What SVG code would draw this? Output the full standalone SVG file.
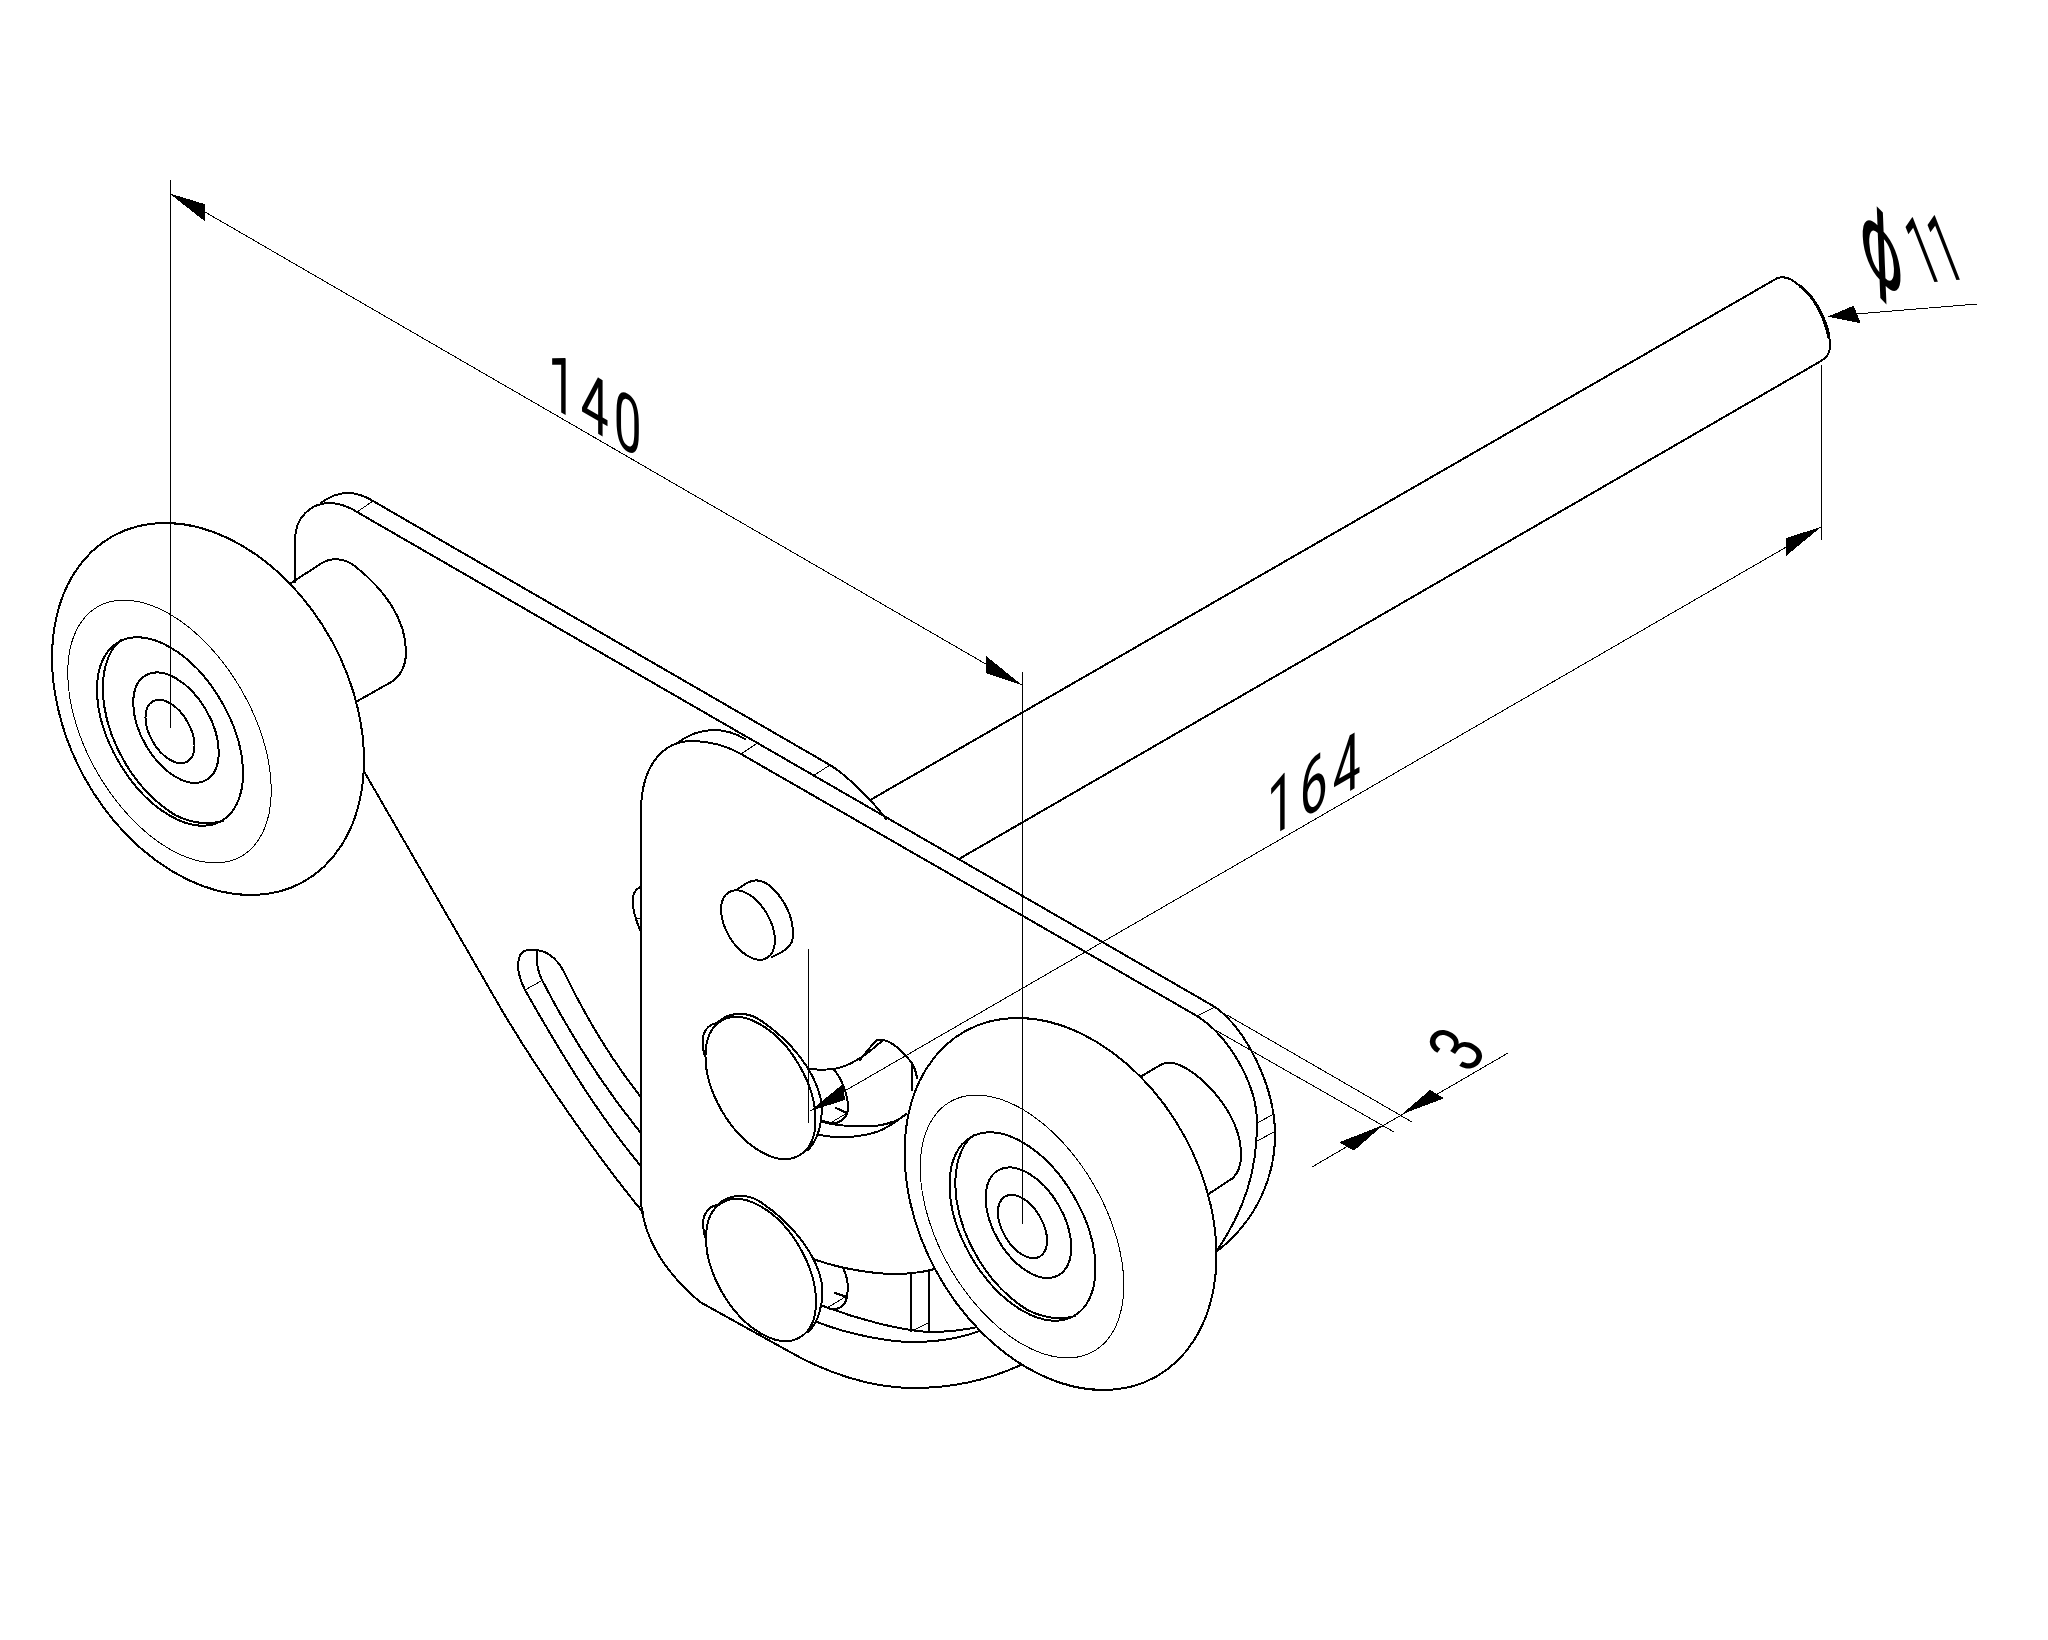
<svg xmlns="http://www.w3.org/2000/svg" xmlns:xlink="http://www.w3.org/1999/xlink" width="2048" height="1640" viewBox="0 0 2048 1640">
<style>
.o{fill:none;stroke:#000;stroke-width:2;stroke-linecap:round;stroke-linejoin:round;shape-rendering:crispEdges}
.w{fill:#fff;stroke:#000;stroke-width:2;shape-rendering:crispEdges}
.t{fill:none;stroke:#000;stroke-width:1;shape-rendering:crispEdges}
.d{fill:none;stroke:#000;stroke-width:1;shape-rendering:crispEdges}
.a{fill:#000;stroke:none;shape-rendering:crispEdges}
.l{font-family:Roboto,"Liberation Sans",sans-serif;font-size:80px;fill:#000}
</style>
<defs>
<g id="wheel">
<ellipse class="w" cx="208" cy="709" rx="141.3" ry="197.4" transform="rotate(-28.6 208 709)"/>
<ellipse class="t" cx="169.5" cy="731.5" rx="83.1" ry="144" transform="rotate(-30 169.5 731.5)"/>
<ellipse class="o" cx="170" cy="731.5" rx="59.6" ry="103.2" transform="rotate(-30 170 731.5)"/>
<path class="o" d="M121.4 640C107 650 100 675 104 705C110 745 135 790 175 815C195 825 212 824 223 821"/>
<ellipse class="o" cx="176" cy="727.7" rx="34.9" ry="60.5" transform="rotate(-30 176 727.7)"/>
<ellipse class="o" cx="170" cy="731.5" rx="20" ry="34.7" transform="rotate(-30 170 731.5)"/>
</g>
<g id="button">
<path class="o" d="M717 1023C708 1024 702 1033 702.6 1042C703 1050 704 1054 705.5 1057"/>
<ellipse class="w" cx="760.5" cy="1088" rx="44.9" ry="77.8" transform="rotate(-30 760.5 1088)"/>
<path class="o" d="M717 1023C727 1013 745 1010 760 1020C790 1040 815 1070 821 1100C824 1120 818 1140 808 1150"/>
</g>
</defs>
<g id="rod">
<path class="o" d="M872 799L1774 280C1780 276 1785 276 1792 280C1812 293 1830 320 1830 345C1830 352 1827 358 1821 361L959 859"/>
<path class="o" style="stroke-width:3" d="M1800 286C1815 297 1825 318 1829 338"/>
</g>
<g id="plate-rear">
<path class="o" d="M295 582V540C295 518 310 504 328 503C338 503 348 506 357 512L1215 1007C1245 1028 1275 1085 1275 1135C1275 1175 1258 1220 1216 1252"/>
<path class="o" d="M321 503C330 496 340 493 348 493C356 493 365 496 373 501L830 765C845 774 872 800 886 819"/>
<path class="t" d="M357 512L373 501M813 776L830 765M1197 1016L1215 1007M1257 1123L1274 1114M1257 1141L1274 1132M741 754L756 744"/>
<path class="o" d="M365 773L500 1007C540 1075 600 1160 642.7 1212"/>
<path class="o" d="M640 1165C590 1105 545 1025 525 990C518 976 516 965 520 955C524 949 530 949 536 950C548 951 556 958 563 970C575 995 600 1045 640 1096"/>
<path class="o" d="M537 950C536 960 537 970 542 980C560 1015 590 1070 640 1132"/>
<path class="t" d="M525 990L543 980M635 918H640"/>
<path class="o" d="M640 887C634 890 632 895 632.7 903C633 910 636 920 640 930"/>
</g>
<g id="plate-front">
<path class="o" d="M676 744C690 733 705 730 714 730C725 730 735 733 745 739"/>
<path class="o" d="M641 1203V811C641 770 660 741 692 741C710 741 725 745 741 754L1197 1016C1230 1037 1257 1085 1257 1123C1257 1170 1245 1210 1216 1252"/>
<path class="o" d="M641 1203C644 1235 660 1268 700 1302L790 1352C825 1372 870 1388 913 1388C950 1388 990 1380 1025 1363"/>
</g>
<g id="slot-details">
<path class="o" d="M809 1069C820 1070 825 1070 833 1069C850 1067 870 1052 883 1040C895 1042 905 1055 912 1063V1090M912 1063C915 1068 916 1072 917 1078M860 1060C866 1052 872 1045 877 1040L883 1040"/>
<path class="o" d="M833 1069C842 1078 848 1095 848 1108C848 1116 843 1121 836 1123C830 1123 826 1122 823 1121"/>
<path class="o" d="M823 1122C835 1126 860 1127 875 1126C890 1124 900 1120 906 1114"/>
<path class="o" d="M819 1135C835 1138 855 1138 873 1133C885 1130 892 1124 898 1120"/>
<path class="o" d="M836 1108L847 1113"/>
<path class="t" d="M832 1122L847 1113"/>
<path class="o" d="M813 1259C850 1272 890 1276 912 1273C925 1272 935 1269 940 1267"/>
<path class="o" d="M843 1268C849 1280 849 1290 846 1301C843 1307 838 1310 830 1309"/>
<path class="o" d="M823 1306C860 1320 900 1330 928 1332C950 1332 970 1329 982 1326"/>
<path class="o" d="M817 1322C850 1335 890 1342 913 1342C940 1342 965 1337 985 1329"/>
<path class="o" d="M911 1273V1331M929 1270V1332M835 1293L847 1297"/>
<path class="t" d="M827 1308L845 1297M912 1331L928 1323"/>
</g>
<g id="pin">
<path class="o" d="M733 892L747 883C757 877 768 882 778 894C789 908 794 923 793 937C792 945 788 948 782 952L772 957"/>
<ellipse class="w" cx="748" cy="925" rx="22" ry="38" transform="rotate(-30 748 925)"/>
</g>
<g id="button-upper"><use href="#button" xlink:href="#button"/></g>
<g id="button-lower"><use href="#button" transform="translate(0.5 182)" xlink:href="#button"/></g>
<g id="hub-left">
<path class="o" d="M288 585L322 563C332 557 345 558 356 567C385 590 406 620 406 652C406 665 402 674 393 681L354 703"/>
</g>
<g id="wheel-left"><use href="#wheel" xlink:href="#wheel"/></g>
<g id="hub-right">
<path class="o" d="M1140 1077L1157 1067C1163 1063 1168 1062 1173 1063C1195 1067 1241 1110 1241 1155C1241 1165 1238 1173 1233 1178L1207 1195"/>
</g>
<g id="wheel-right"><use href="#wheel" transform="translate(852.5 495)" xlink:href="#wheel"/></g>
<g id="connectors">
<path class="d" d="M170 180V728M1022.5 672V1224M1821 365V540M808.5 949V1123"/>
<path class="d" d="M205 212L1022 685"/>
<polygon class="a" points="169.3,193.3 205.3,204.3 205.3,221.7"/>
<polygon class="a" points="1022,685 986,656 986,673.3"/>
<path class="d" d="M810 1111L1821 527"/>
<polygon class="a" points="810,1111 843,1084 845,1100"/>
<polygon class="a" points="1821,527 1786,538 1786,556"/>
<path class="d" d="M1977 304L1856 314"/>
<polygon class="a" points="1827.6,316.7 1853.8,305.7 1860.6,323.3"/>
<path class="d" d="M1227 1015L1412 1122M1210 1027L1394 1132M1312 1167L1508 1053"/>
<polygon class="a" points="1383.3,1125 1339.3,1142.3 1354,1150.7"/>
<polygon class="a" points="1401.7,1114.3 1430,1090 1444,1098.3"/>
<text class="l" letter-spacing="8" transform="matrix(.62 .36 0 .99 548 404.7)">140</text>
<text class="l" letter-spacing="8" transform="matrix(.62 -.36 0 .98 1267 839)">164</text>
<text class="l" transform="matrix(.42 -.58 .82 .47 1470 1075)">3</text>
<text class="l" style="font-size:64px" transform="matrix(.61 -.055 .55 1.41 1924 283)"><tspan x="-86" y="-21" rotate="39" style="font-family:'DejaVu Sans',sans-serif;font-size:84px">ϕ</tspan><tspan x="0" y="0">11</tspan></text>
</g>
</svg>
